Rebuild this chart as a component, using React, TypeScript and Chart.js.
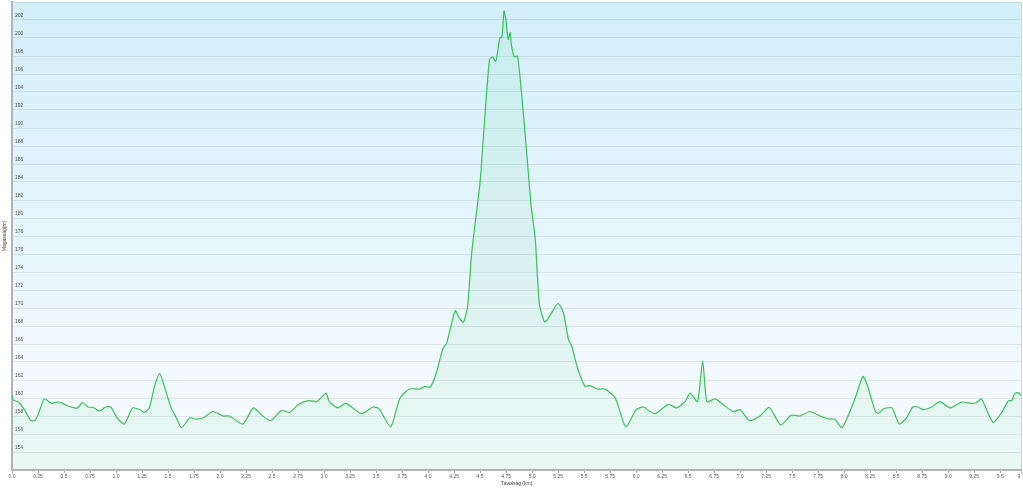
import React, { useEffect, useRef } from "react";
import { Chart, registerables } from "chart.js";

Chart.register(...registerables);

const distanceKm: number[] = [
  0.0, 0.01, 0.06, 0.12, 0.18, 0.22, 0.25, 0.31, 0.38, 0.44, 0.47, 0.52, 0.6, 0.63, 0.68, 0.73, 0.78, 0.83, 0.86, 0.9,
  0.95, 1.01, 1.08, 1.16, 1.23, 1.27, 1.32, 1.37, 1.42, 1.47, 1.53, 1.58, 1.63, 1.71, 1.77, 1.84, 1.93, 2.03, 2.09, 2.22,
  2.32, 2.41, 2.49, 2.59, 2.67, 2.75, 2.85, 2.93, 2.96, 3.02, 3.05, 3.13, 3.21, 3.36, 3.47, 3.53, 3.64, 3.73, 3.82, 3.92,
  3.97, 4.02, 4.08, 4.14, 4.18, 4.26, 4.3, 4.34, 4.38, 4.42, 4.5, 4.54, 4.59, 4.62, 4.65, 4.67, 4.69, 4.71, 4.73, 4.75,
  4.77, 4.79, 4.8, 4.83, 4.86, 4.9, 4.95, 4.99, 5.03, 5.07, 5.12, 5.15, 5.2, 5.25, 5.3, 5.35, 5.38, 5.44, 5.51, 5.55,
  5.63, 5.7, 5.8, 5.9, 6.0, 6.07, 6.18, 6.31, 6.39, 6.47, 6.52, 6.59, 6.64, 6.68, 6.76, 6.84, 6.93, 7.0, 7.09, 7.19,
  7.28, 7.39, 7.49, 7.57, 7.67, 7.77, 7.86, 7.91, 7.98, 8.1, 8.18, 8.22, 8.3, 8.33, 8.38, 8.46, 8.53, 8.6, 8.66, 8.71,
  8.76, 8.84, 8.92, 9.02, 9.13, 9.23, 9.27, 9.32, 9.43, 9.51, 9.58, 9.61, 9.64, 9.67, 9.7,
];

const elevationM: number[] = [
  160.3, 159.8, 159.55, 158.7, 157.5, 157.5, 158.1, 159.9, 159.4, 159.55, 159.5, 159.2, 158.9, 158.9, 159.5, 159.0, 158.95, 158.6, 158.65, 159.0,
  159.0, 157.8, 157.1, 158.9, 158.7, 158.4, 158.9, 161.3, 162.7, 161.1, 158.9, 157.8, 156.7, 157.8, 157.65, 157.8, 158.5, 158.0, 158.0, 157.1,
  158.9, 158.0, 157.5, 158.6, 158.4, 159.25, 159.7, 159.6, 159.9, 160.55, 159.6, 158.9, 159.4, 158.25, 159.0, 158.8, 156.8, 160.0, 161.0, 161.0,
  161.3, 161.2, 162.8, 165.4, 166.15, 169.7, 168.9, 168.4, 170.2, 176.2, 184.0, 190.35, 197.6, 197.9, 197.4, 198.55, 200.0, 200.1, 203.0, 201.9,
  199.85, 200.6, 199.3, 197.9, 198.0, 193.7, 187.0, 181.4, 177.7, 170.4, 168.45, 168.75, 169.7, 170.5, 169.5, 166.5, 165.8, 163.2, 161.3, 161.4,
  161.0, 161.0, 160.0, 156.8, 158.7, 159.0, 158.25, 159.3, 158.9, 159.6, 160.55, 159.6, 164.1, 159.6, 159.9, 159.25, 158.5, 158.7, 157.5, 158.0,
  158.95, 157.0, 158.1, 158.0, 158.5, 158.0, 157.65, 157.65, 156.7, 159.8, 162.4, 161.5, 158.5, 158.3, 158.8, 158.9, 157.1, 157.8, 159.0, 159.0,
  158.7, 159.0, 159.6, 158.9, 159.55, 159.4, 159.5, 159.9, 157.3, 158.3, 159.7, 159.7, 160.5, 160.6, 160.25,
];

const xMin = 0;
const xMax = 9.7;
const xStep = 0.25;
const yMin = 152;
const yMax = 204;
const yStep = 2;
const xTitle = "Távolság (km)";
const yTitle = "Magasság(m)";

const bgPlugin = {
  id: "areaBg",
  beforeDraw(chart: any) {
    const { ctx, chartArea } = chart;
    if (!chartArea) return;
    const g = ctx.createLinearGradient(0, chartArea.top, 0, chartArea.bottom);
    g.addColorStop(0, "#d2effa");
    g.addColorStop(1, "#f9fcff");
    ctx.save();
    ctx.fillStyle = g;
    ctx.fillRect(chartArea.left, chartArea.top, chartArea.right - chartArea.left, chartArea.bottom - chartArea.top);
    ctx.strokeStyle = "#d0d6da";
    ctx.lineWidth = 1;
    ctx.beginPath();
    ctx.moveTo(chartArea.right + 0.5, chartArea.top);
    ctx.lineTo(chartArea.right + 0.5, chartArea.bottom);
    ctx.stroke();
    ctx.restore();
  },
};

export default function App() {
  const ref = useRef<HTMLCanvasElement | null>(null);

  useEffect(() => {
    if (!ref.current) return;
    const points = distanceKm.map((d, i) => ({ x: d, y: elevationM[i] }));
    const font = { family: "'Liberation Sans', Arial, sans-serif", size: 5 };
    const chart = new Chart(ref.current, {
      type: "line",
      data: {
        datasets: [
          {
            data: points,
            borderColor: "#3dbf5b",
            backgroundColor: "rgba(70,200,100,0.08)",
            fill: "start",
            pointRadius: 0,
            borderWidth: 1.2,
            tension: 0.2,
          },
        ],
      },
      options: {
        animation: false,
        responsive: false,
        devicePixelRatio: 1,
        layout: { padding: { top: 2, right: 2, left: 0, bottom: 0 } },
        plugins: { legend: { display: false }, tooltip: { enabled: false } },
        scales: {
          x: {
            type: "linear",
            min: xMin,
            max: xMax,
            afterFit: (s: any) => {
              s.height = 18;
              s.paddingLeft = 0;
              s.paddingRight = 0;
            },
            ticks: {
              stepSize: xStep,
              autoSkip: false,
              maxRotation: 0,
              padding: 1,
              color: "#555",
              font,
              callback: (v: any) => {
                const n = Number(v);
                if (Math.abs(n - Math.round(n)) < 1e-9) return n.toFixed(1);
                return String(Math.round(n * 100) / 100);
              },
            },
            grid: { drawOnChartArea: false, tickLength: 3, color: "#aaa" },
            border: { color: "#b5b5b5", width: 2 },
            title: { display: true, text: xTitle, color: "#444", font, padding: { top: 1, bottom: 1 } },
          },
          y: {
            type: "linear",
            min: yMin,
            max: yMax,
            afterFit: (s: any) => {
              s.width = 12;
              s.paddingTop = 0;
              s.paddingBottom = 0;
            },
            ticks: {
              stepSize: yStep,
              mirror: true,
              padding: 3,
              labelOffset: -4,
              color: "#555",
              font,
              callback: (v: any) => (Number(v) === yMin ? "" : String(v)),
            },
            grid: { color: "rgba(0,0,0,0.08)", lineWidth: 1, drawTicks: false },
            border: { color: "#b5b5b5", width: 2 },
            title: { display: true, text: yTitle, color: "#444", font, padding: { top: 2, bottom: 0 } },
          },
        },
      },
      plugins: [bgPlugin],
    });
    return () => chart.destroy();
  }, []);

  return (
    <div style={{ position: "fixed", left: 0, top: 0, width: 1023, height: 488, background: "#fff" }}>
      <canvas ref={ref} width={1023} height={488} style={{ display: "block" }} />
    </div>
  );
}
